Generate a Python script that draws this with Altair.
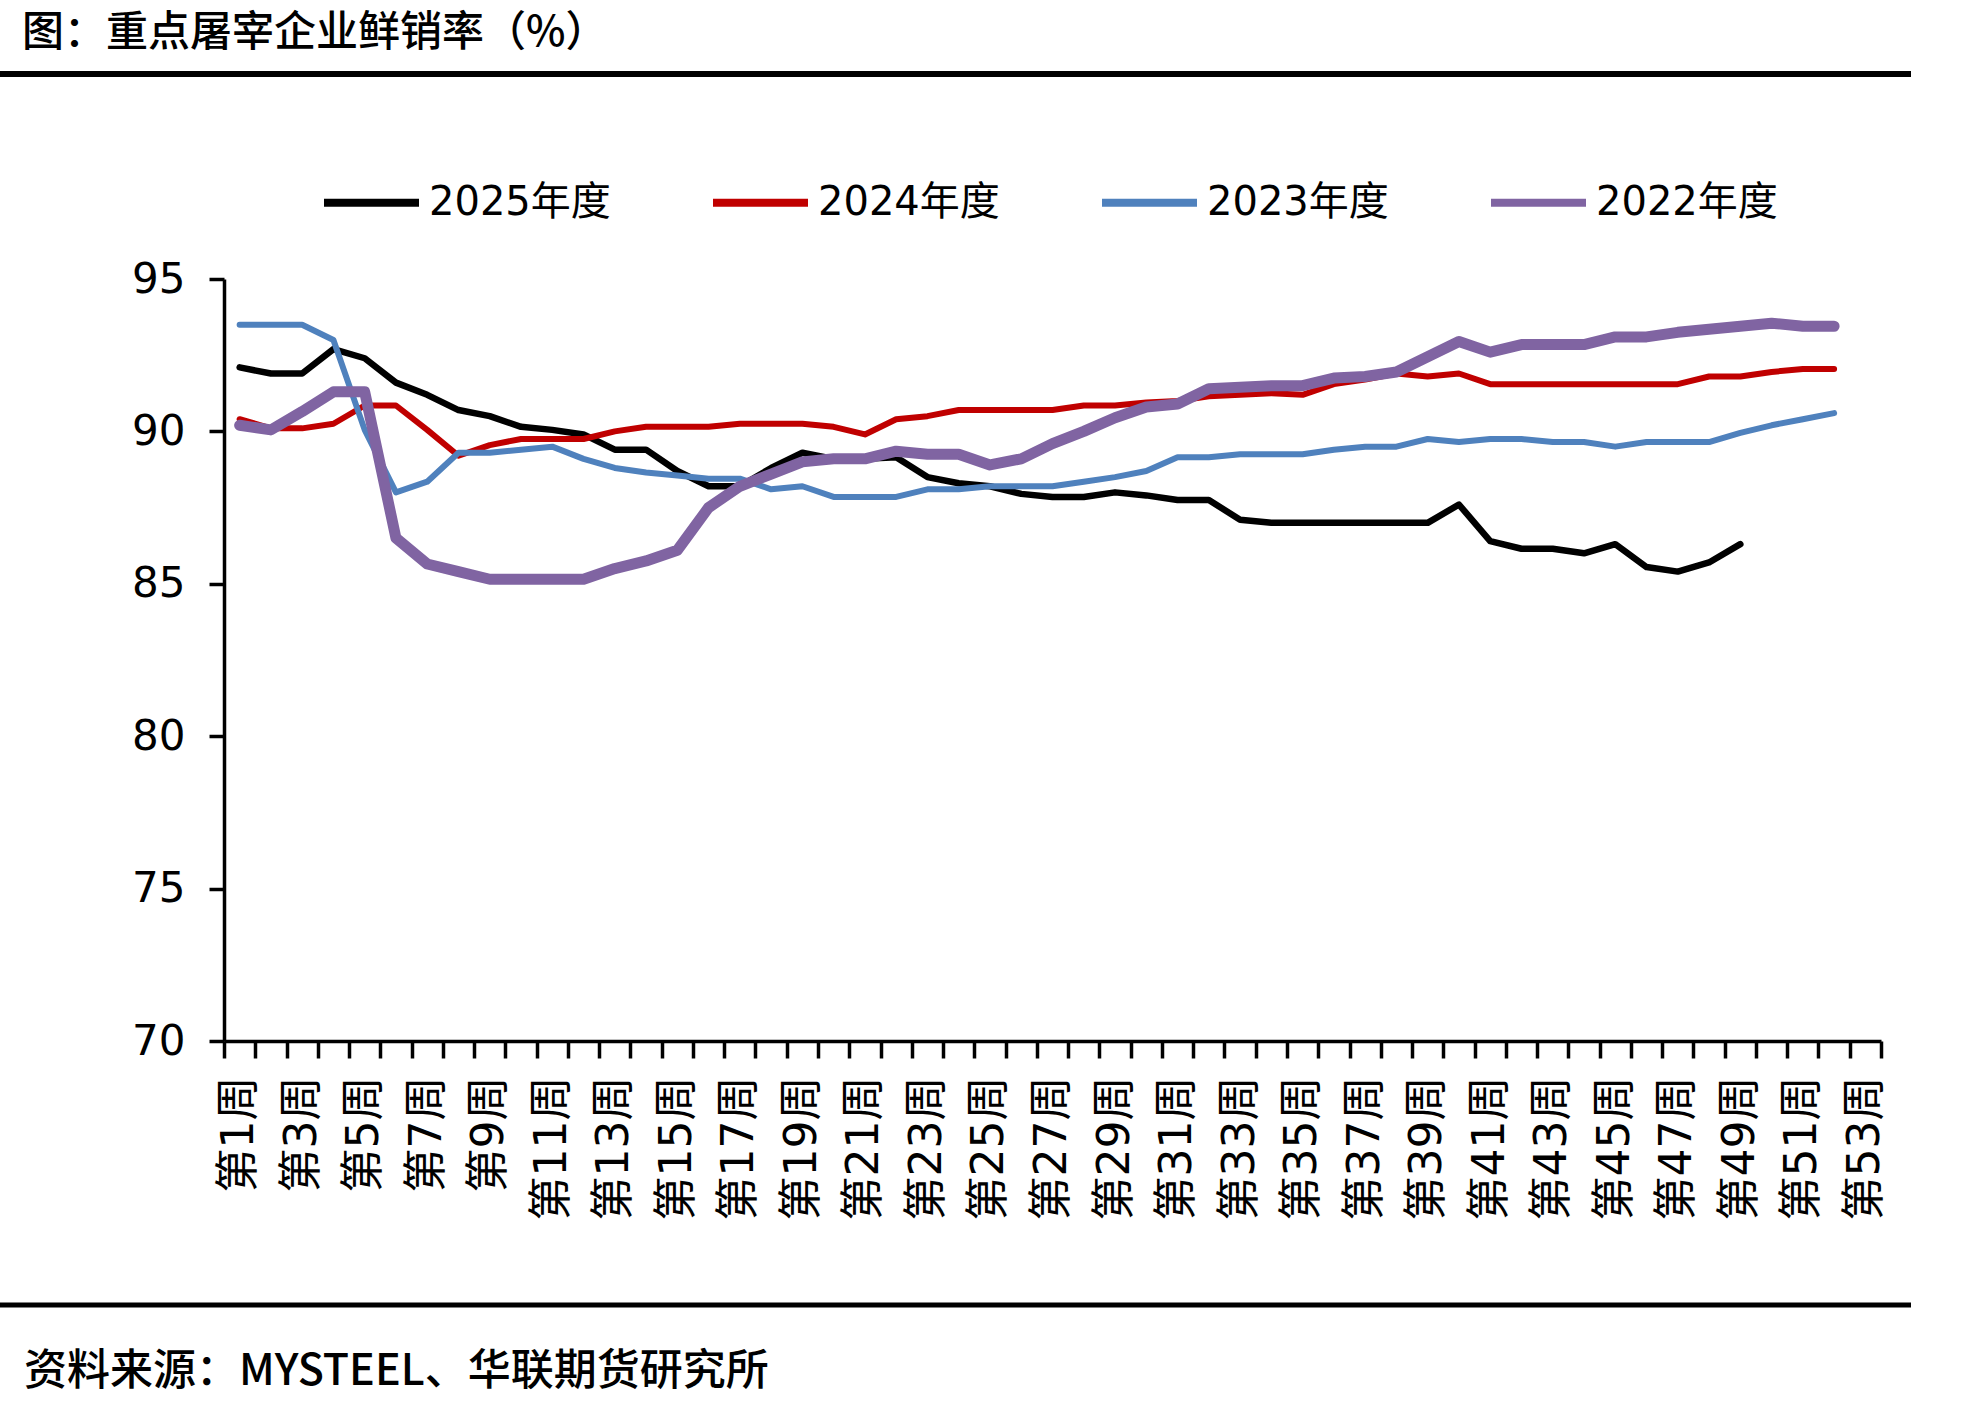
import altair as alt
import pandas as pd

weeks = [f"第{i}周" for i in range(1, 54)]
series_names = ["2025年度", "2024年度", "2023年度", "2022年度"]
colors = ["#000000", "#C00000", "#4F81BD", "#8064A2"]
widths = [6.5, 6, 6, 11]

s2025 = [92.1, 91.9, 91.9, 92.7, 92.4, 91.6, 91.2, 90.7, 90.5, 90.15,
         90.05, 89.9, 89.4, 89.4, 88.7, 88.2, 88.2, 88.8, 89.3, 89.1,
         89.1, 89.15, 88.5, 88.3, 88.2, 87.95, 87.85, 87.85, 88.0, 87.9,
         87.75, 87.75, 87.1, 87.0, 87.0, 87.0, 87.0, 87.0, 87.0, 87.6,
         86.4, 86.15, 86.15, 86.0, 86.3, 85.55, 85.4, 85.7, 86.3]
s2024 = [90.4, 90.1, 90.1, 90.25, 90.85, 90.85, 90.05, 89.2, 89.55, 89.75,
         89.75, 89.75, 90.0, 90.15, 90.15, 90.15, 90.25, 90.25, 90.25, 90.15,
         89.9, 90.4, 90.5, 90.7, 90.7, 90.7, 90.7, 90.85, 90.85, 90.95,
         91.0, 91.15, 91.2, 91.25, 91.2, 91.55, 91.7, 91.9, 91.8, 91.9,
         91.55, 91.55, 91.55, 91.55, 91.55, 91.55, 91.55, 91.8, 91.8, 91.95,
         92.05, 92.05]
s2023 = [93.5, 93.5, 93.5, 93.0, 90.05, 88.0, 88.35, 89.3, 89.3, 89.4,
         89.5, 89.1, 88.8, 88.65, 88.55, 88.45, 88.45, 88.1, 88.2, 87.85,
         87.85, 87.85, 88.1, 88.1, 88.2, 88.2, 88.2, 88.35, 88.5, 88.7,
         89.15, 89.15, 89.25, 89.25, 89.25, 89.4, 89.5, 89.5, 89.75, 89.65,
         89.75, 89.75, 89.65, 89.65, 89.5, 89.65, 89.65, 89.65, 89.95, 90.2,
         90.4, 90.6]
s2022 = [90.2, 90.05, 90.65, 91.3, 91.3, 86.5, 85.65, 85.4, 85.15, 85.15,
         85.15, 85.15, 85.5, 85.75, 86.1, 87.5, 88.2, 88.6, 89.0, 89.1,
         89.1, 89.35, 89.25, 89.25, 88.9, 89.1, 89.6, 90.0, 90.45, 90.8,
         90.9, 91.4, 91.45, 91.5, 91.5, 91.75, 91.8, 91.95, 92.45, 92.95,
         92.6, 92.85, 92.85, 92.85, 93.1, 93.1, 93.25, 93.35, 93.45, 93.55,
         93.45, 93.45]

y_ticks = [70, 75, 80, 85, 90, 95]

title_text = "图：重点屠宰企业鲜销率（%）"
source_text = "资料来源：MYSTEEL、华联期货研究所"

FONT = "Noto Sans CJK SC"
MIXED = "DejaVu Sans, Noto Sans CJK SC"

rows = []
for name, vals in zip(series_names, [s2025, s2024, s2023, s2022]):
    for w, v in zip(weeks, vals):
        rows.append({"week": w, "value": v, "series": name})
df = pd.DataFrame(rows)

W, H = 1657, 762
PAD = {"left": 224, "top": 279, "right": 106, "bottom": 362}

x_enc = alt.X(
    "week:N",
    sort=weeks,
    bandPosition=0.5,
    scale=alt.Scale(type="band", domain=weeks, paddingInner=0, paddingOuter=0),
    axis=alt.Axis(
        title=None,
        tickBand="extent",
        labelAngle=270,
        labelExpr="toNumber(replace(replace(datum.value, '第', ''), '周', '')) % 2 == 1 ? datum.value : ''",
        labelOverlap=False,
        labelFont=MIXED,
        labelFontSize=44,
        labelColor="#000000",
        labelPadding=18,
        labelLimit=400,
        tickSize=17,
        tickWidth=3.5,
        tickColor="#000000",
        domainWidth=3.5,
        domainColor="#000000",
        grid=False,
    ),
)
y_enc = alt.Y(
    "value:Q",
    scale=alt.Scale(domain=[70, 95], nice=False, zero=False),
    axis=alt.Axis(
        title=None,
        values=y_ticks,
        labelFont="DejaVu Sans",
        labelFontSize=42,
        labelColor="#000000",
        labelPadding=24,
        tickSize=15,
        tickWidth=3.5,
        tickColor="#000000",
        domainWidth=3.5,
        domainColor="#000000",
        grid=False,
    ),
)
color_enc = alt.Color(
    "series:N",
    scale=alt.Scale(domain=series_names, range=colors),
    legend=alt.Legend(
        title=None,
        orient="none",
        direction="horizontal",
        columns=4,
        legendX=96,
        legendY=-128,
        padding=0,
        labelFont=MIXED,
        labelFontSize=40,
        labelColor="#000000",
        labelLimit=400,
        labelOffset=6,
        symbolType="stroke",
        symbolSize=9025,
        symbolStrokeWidth=8,
        columnPadding=86,
    ),
)

layers = []
for name, sw in zip(series_names, widths):
    layers.append(
        alt.Chart(df)
        .transform_filter(alt.datum.series == name)
        .mark_line(strokeWidth=sw, strokeCap="round", strokeJoin="round")
        .encode(x=x_enc, y=y_enc, color=color_enc)
    )

one = alt.Data(values=[{"k": 1}])
title_layer = alt.Chart(one).mark_text(
    align="left", baseline="middle", font=FONT, fontSize=42, fontWeight=500, color="#000000"
).encode(x=alt.value(-202), y=alt.value(-246), text=alt.value(title_text))
source_layer = alt.Chart(one).mark_text(
    align="left", baseline="middle", font=FONT, fontSize=43, fontWeight=500, color="#000000"
).encode(x=alt.value(-200), y=alt.value(1093), text=alt.value(source_text))
top_rule = alt.Chart(one).mark_rule(color="#000000", strokeWidth=6).encode(
    x=alt.value(-224), x2=alt.value(1687), y=alt.value(-205)
)
bottom_rule = alt.Chart(one).mark_rule(color="#000000", strokeWidth=5).encode(
    x=alt.value(-224), x2=alt.value(1687), y=alt.value(1026)
)

chart = (
    alt.layer(*layers, title_layer, source_layer, top_rule, bottom_rule)
    .properties(width=W, height=H, autosize=alt.AutoSizeParams(type="none"), padding=PAD, background="#ffffff")
    .configure_view(stroke=None)
)

chart.save("out.html", embed_options={"renderer": "svg", "actions": False})
